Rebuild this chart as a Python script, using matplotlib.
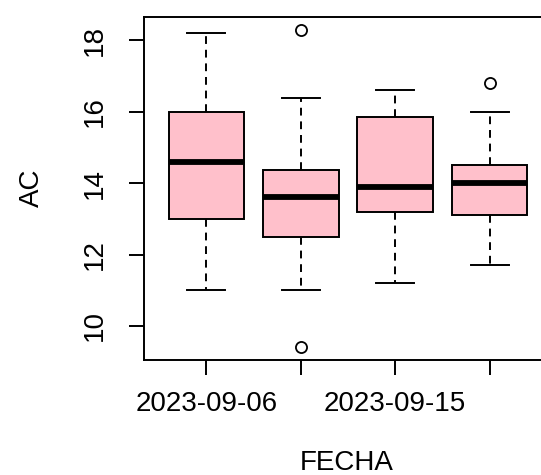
import matplotlib.pyplot as plt

plt.rcParams['font.family'] = ['Liberation Sans', 'DejaVu Sans']

# box statistics (AC by FECHA)
fechas = ["2023-09-06", "", "2023-09-15", ""]
whislo = [11.0, 11.0, 11.2, 11.7]
q1 = [13.0, 12.5, 13.2, 13.1]
med = [14.6, 13.6, 13.9, 14.0]
q3 = [16.0, 14.38, 15.85, 14.52]
whishi = [18.2, 16.4, 16.6, 16.0]
fliers = [[], [18.3, 9.4], [], [16.8]]

W, H = 541, 475
fig = plt.figure(figsize=(W / 100, H / 100), dpi=100)
# R-style plot region; the right border falls outside the saved picture
ax = fig.add_axes([144 / W, 1 - 360 / H, (552 - 144) / W, (360 - 17) / H])

stats = []
for i in range(len(fechas)):
    stats.append(dict(whislo=whislo[i], q1=q1[i], med=med[i], q3=q3[i],
                      whishi=whishi[i], fliers=fliers[i], label=fechas[i]))

lw = 1.4
ax.bxp(stats, positions=range(1, 5), widths=0.8, patch_artist=True,
       boxprops=dict(facecolor='#FFC0CB', edgecolor='black', linewidth=lw),
       medianprops=dict(color='black', linewidth=4.2, solid_capstyle='butt'),
       whiskerprops=dict(color='black', linewidth=lw, linestyle=(0, (4, 3))),
       capprops=dict(color='black', linewidth=lw),
       capwidths=0.4,
       flierprops=dict(marker='o', markerfacecolor='none', markeredgecolor='black',
                       markersize=8, markeredgewidth=1.3))

ax.set_xlim(0.34, 4.66)
ax.set_ylim(9.044, 18.656)
ax.set_yticks([10, 12, 14, 16, 18])
ax.set_yticklabels(["10", "12", "14", "16", "18"], rotation=90, va='center')
ax.set_xticks(range(1, 5))
ax.set_xticklabels(fechas)

for s in ax.spines.values():
    s.set_linewidth(lw)
ax.tick_params(length=11, width=lw, labelsize=20)
ax.tick_params(axis='y', pad=15)
ax.tick_params(axis='x', pad=11)

fig.text(32 / W, 1 - 188 / H, "AC", rotation=90, ha='center', va='center', fontsize=20)
fig.text(347 / W, 1 - 463 / H, "FECHA", ha='center', va='center', fontsize=20)

fig.savefig("out.png", dpi=100)
